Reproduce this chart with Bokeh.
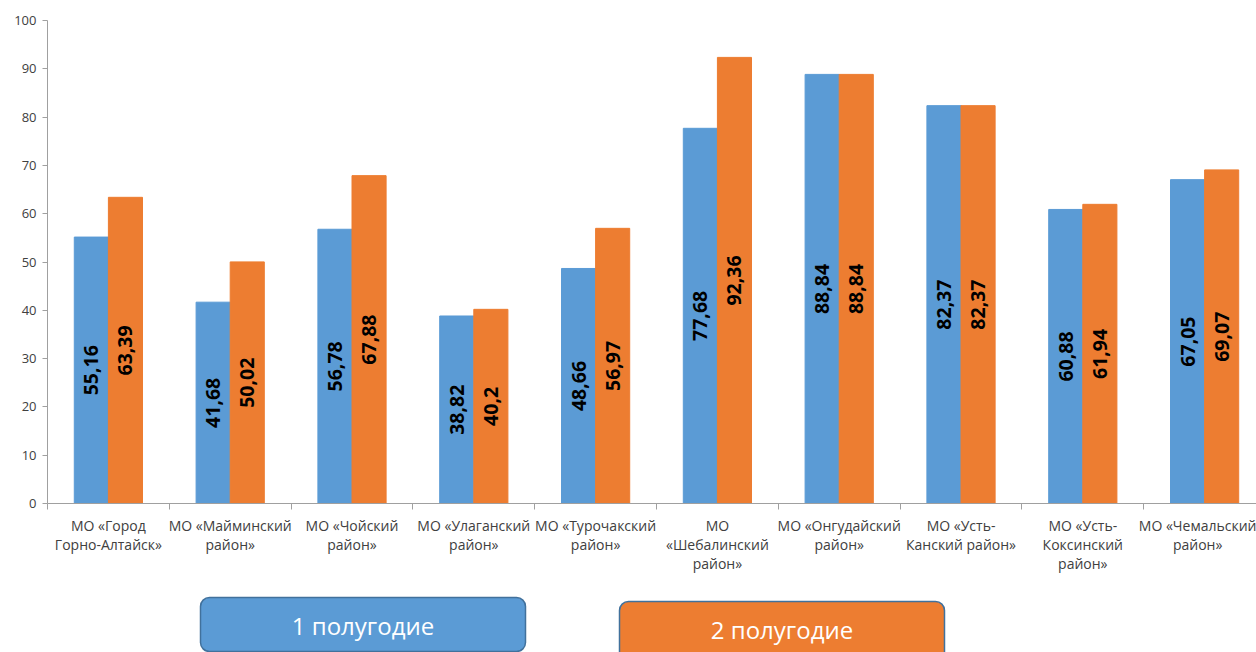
import numpy as np
from bokeh.plotting import figure
from bokeh.models import ColumnDataSource, FixedTicker, Range1d, BoxAnnotation, Label
from bokeh.layouts import column
from bokeh.embed import file_html
from bokeh.resources import INLINE
from bokeh.core.properties import value

categories = [
    "МО «Город\nГорно-Алтайск»",
    "МО «Майминский\nрайон»",
    "МО «Чойский\nрайон»",
    "МО «Улаганский\nрайон»",
    "МО «Турочакский\nрайон»",
    "МО\n«Шебалинский\nрайон»",
    "МО «Онгудайский\nрайон»",
    "МО «Усть-\nКанский район»",
    "МО «Усть-\nКоксинский\nрайон»",
    "МО «Чемальский\nрайон»",
]
half1 = [55.16, 41.68, 56.78, 38.82, 48.66, 77.68, 88.84, 82.37, 60.88, 67.05]
half2 = [63.39, 50.02, 67.88, 40.2, 56.97, 92.36, 88.84, 82.37, 61.94, 69.07]
series_names = ["1 полугодие", "2 полугодие"]
y_ticks = [0, 10, 20, 30, 40, 50, 60, 70, 80, 90, 100]

BLUE = "#5B9BD5"
ORANGE = "#ED7D31"
BORDER = "#41719C"
FONT = "Open Sans"

n = len(categories)
idx = np.arange(n)
centers = (idx + 0.5).tolist()
bounds = list(range(n + 1))
bw = 0.28

def fmt(v):
    return ("%g" % v).replace(".", ",")

src = ColumnDataSource(dict(
    x1=(idx + 0.5 - bw / 2).tolist(),
    x2=(idx + 0.5 + bw / 2).tolist(),
    v1=half1, v2=half2,
    m1=[v / 2 for v in half1], m2=[v / 2 for v in half2],
    t1=[fmt(v) for v in half1], t2=[fmt(v) for v in half2],
))

W = 1256
LEFT = 47
p = figure(width=W, height=590, x_range=Range1d(0, 9.926), y_range=Range1d(0, 100),
           output_backend="svg", toolbar_location=None,
           min_border_left=LEFT, min_border_right=0, min_border_top=20, min_border_bottom=87)
p.outline_line_color = None
p.xgrid.visible = False
p.ygrid.visible = False

p.vbar(x="x1", top="v1", width=bw, color=BLUE, source=src)
p.vbar(x="x2", top="v2", width=bw, color=ORANGE, source=src)
for xs, ys, ts in (("x1", "m1", "t1"), ("x2", "m2", "t2")):
    p.text(x=xs, y=ys, text=ts, angle=np.pi / 2, text_align="center", text_baseline="middle",
           text_font=value(FONT), text_font_style="bold", text_font_size="19.5px",
           text_color="#000000", source=src)

AX = "#A0A0A0"
p.yaxis.ticker = FixedTicker(ticks=y_ticks)
p.yaxis.axis_line_color = AX
p.yaxis.major_tick_line_color = AX
p.yaxis.major_tick_out = 5
p.yaxis.major_tick_in = 0
p.yaxis.minor_tick_line_color = None
p.yaxis.major_label_text_font = FONT
p.yaxis.major_label_text_font_size = "13px"
p.yaxis.major_label_text_color = "#404040"
p.yaxis.major_label_standoff = 6

p.xaxis.ticker = FixedTicker(ticks=centers, minor_ticks=bounds)
p.xaxis.major_label_overrides = {c: lab for c, lab in zip(centers, categories)}
p.xaxis.axis_line_color = AX
p.xaxis.major_tick_line_color = None
p.xaxis.major_tick_out = 0
p.xaxis.major_tick_in = 0
p.xaxis.minor_tick_line_color = AX
p.xaxis.minor_tick_out = 6
p.xaxis.minor_tick_in = 0
p.xaxis.major_label_text_font = FONT
p.xaxis.major_label_text_font_size = "14px"
p.xaxis.major_label_text_color = "#404040"
p.xaxis.major_label_standoff = 6
p.xaxis.major_label_text_line_height = 1.0

# legend strip: its frame is aligned with the chart frame, so data x = page x
leg = figure(width=W, height=62, x_range=Range1d(LEFT, W), y_range=Range1d(0, 62),
             output_backend="svg", toolbar_location=None,
             min_border_left=LEFT, min_border_right=0, min_border_top=0, min_border_bottom=0,
             x_axis_type=None, y_axis_type=None)
leg.outline_line_color = None
leg.xgrid.visible = False
leg.ygrid.visible = False

boxes = [(200, 525, 55, 1, BLUE), (619, 944, 51, -40, ORANGE)]
for (l, r, t, b, fc), name in zip(boxes, series_names):
    leg.add_layout(BoxAnnotation(left=l, right=r, top=t, bottom=b, fill_color=fc, fill_alpha=1,
                                 line_color=BORDER, line_width=1.5, line_alpha=1, border_radius=9))
    leg.add_layout(Label(x=(l + r) / 2, y=t - 28, text=name, text_align="center",
                         text_baseline="middle", text_font=FONT, text_font_size="24px",
                         text_color="white"))

layout = column(p, leg, spacing=0)
open("out.html", "w").write(file_html(layout, INLINE))
